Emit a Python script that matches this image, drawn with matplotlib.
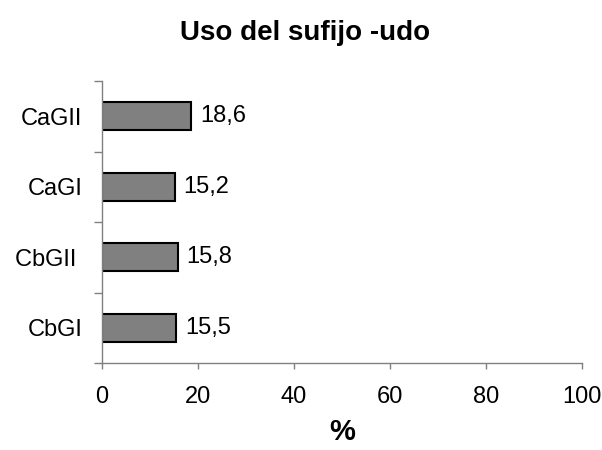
import matplotlib.pyplot as plt

plt.rcParams['font.family'] = ['Liberation Sans', 'DejaVu Sans']

# data, bottom to top
categories = ['CbGI', 'CbGII ', 'CaGI', 'CaGII']
values = [15.5, 15.8, 15.2, 18.6]
x_ticks = [0, 20, 40, 60, 80, 100]

fig = plt.figure(figsize=(6.02, 4.5), dpi=100)
ax = fig.add_axes([0.1694, 0.1933, 0.7974, 0.6267])

pos = list(range(len(categories)))
bars = ax.barh(pos, values, height=0.4, color='#808080',
               edgecolor='black', linewidth=1.5)

# value labels with decimal comma
for bar, v in zip(bars, values):
    ax.text(bar.get_width() + 1.8, bar.get_y() + bar.get_height() / 2,
            f'{v:.1f}'.replace('.', ','), va='center', ha='left', fontsize=17)

ax.set_xlim(0, 100)
ax.set_ylim(-0.5, len(categories) - 0.5)
ax.set_xticks(x_ticks)
ax.set_xticklabels([str(t) for t in x_ticks])

# ticks between categories, labels centred on bars
ax.set_yticks([p - 0.5 for p in pos] + [len(pos) - 0.5])
ax.set_yticklabels([])
ax.set_yticks(pos, minor=True)
ax.set_yticklabels(categories, minor=True)

for side in ['top', 'right']:
    ax.spines[side].set_visible(False)
for side in ['left', 'bottom']:
    ax.spines[side].set_color('#808080')
    ax.spines[side].set_linewidth(1)

ax.tick_params(axis='x', direction='out', length=4.3, width=1, color='#808080',
               labelsize=17, pad=12.5)
ax.tick_params(axis='y', which='major', direction='out', length=5.8, width=1,
               color='#808080')
ax.tick_params(axis='y', which='minor', length=0, labelsize=17, pad=14)

fig.text(0.507, 0.955, 'Uso del sufijo -udo', fontsize=20, fontweight='bold',
         ha='center', va='top')
ax.set_xlabel('%', fontsize=21, fontweight='bold', labelpad=7)

fig.savefig('out.png', dpi=100)
